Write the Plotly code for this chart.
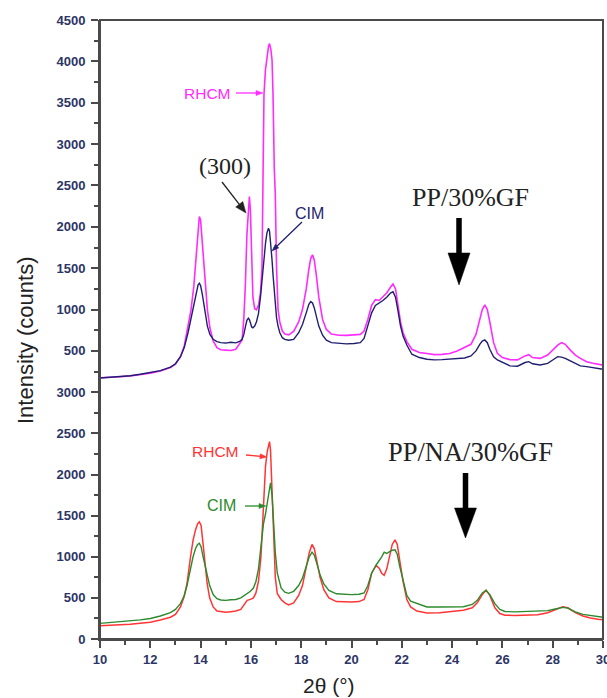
import plotly.graph_objects as go

# ---------------- data ----------------
# Top panel: PP/30%GF
top_rhcm_x = [10.0, 10.4, 10.8, 11.2, 11.6, 12.0, 12.4, 12.8, 13.0, 13.2,
              13.35, 13.5, 13.62, 13.73, 13.82, 13.9, 13.95, 14.0, 14.07, 14.13,
              14.19, 14.27, 14.37, 14.5, 14.65, 14.8, 15.0, 15.2, 15.4, 15.55,
              15.65, 15.72, 15.78, 15.84, 15.9, 15.94, 15.98, 16.03, 16.08, 16.15,
              16.22, 16.3, 16.38, 16.44, 16.48, 16.52, 16.58, 16.64, 16.7, 16.74,
              16.79, 16.84, 16.88, 16.93, 16.97, 17.02, 17.08, 17.15, 17.25, 17.35,
              17.5, 17.7, 17.9, 18.05, 18.2, 18.3, 18.38, 18.45, 18.52, 18.6,
              18.7, 18.85, 19.0, 19.2, 19.5, 19.8, 20.1, 20.35, 20.5, 20.65,
              20.8, 20.95, 21.1, 21.25, 21.4, 21.55, 21.65, 21.75, 21.85, 21.95,
              22.05, 22.2, 22.4, 22.7, 23.0, 23.3, 23.6, 23.9, 24.2, 24.5,
              24.75, 24.95, 25.1, 25.2, 25.3, 25.4, 25.5, 25.65, 25.8, 26.0,
              26.3, 26.6, 26.9, 27.05, 27.2, 27.5, 27.8, 28.0, 28.2, 28.35,
              28.5, 28.7, 28.9, 29.1, 29.35, 29.6, 29.8, 30.0]
top_rhcm_y = [175, 178, 188, 198, 212, 232, 258, 298, 340, 430,
              560, 780, 1000, 1280, 1650, 2000, 2125, 2080, 1800, 1500,
              1280, 1000, 780, 620, 540, 515, 510, 505, 520, 580,
              633, 900, 1300, 1900, 2300, 2367, 2200, 1600, 1150, 1010,
              996, 1050, 1200, 1500, 2500, 3600, 3900, 4050, 4180, 4215,
              4150, 4020, 3600, 2700, 2400, 1500, 1000, 850, 740, 705,
              695, 735, 850, 1000, 1250, 1480, 1620, 1661, 1600, 1420,
              1150, 880, 760, 705, 690, 688, 692, 700, 740, 880,
              1050, 1120, 1110, 1150, 1200, 1270, 1310, 1250, 1050, 850,
              720, 612, 520, 482, 468, 455, 458, 470, 500, 545,
              580, 700, 880, 1000, 1056, 1000, 850, 600, 472, 420,
              395, 392, 440, 455, 420, 410, 450, 510, 570, 600,
              580, 510, 450, 410, 370, 352, 340, 328]

top_cim_x = top_rhcm_x
top_cim_y = [172, 182, 185, 200, 218, 238, 262, 305, 345, 430,
             540, 720, 900, 1050, 1200, 1300, 1318, 1290, 1180, 1050,
             930, 800, 700, 640, 612, 600, 595, 605, 598, 615,
             640, 700, 790, 870, 895, 880, 840, 790, 780, 800,
             850, 950, 1150, 1350, 1500, 1650, 1800, 1930, 1984, 1950,
             1800, 1600, 1420, 1200, 1050, 900, 800, 720, 660, 640,
             630, 640, 720, 820, 960, 1060, 1096, 1080, 1020, 920,
             800, 690, 630, 600, 590, 585, 590, 600, 650, 800,
             960, 1050, 1077, 1110, 1150, 1200, 1217, 1150, 980, 800,
             680, 572, 460, 420, 400, 392, 395, 400, 410, 415,
             440, 500, 580, 620, 633, 600, 520, 430, 391, 360,
             320, 315, 360, 370, 345, 330, 350, 390, 431, 425,
             410, 380, 345, 320, 310, 295, 285, 278]

# Bottom panel: PP/NA/30%GF
bot_x = [10.0, 10.4, 10.8, 11.2, 11.6, 12.0, 12.4, 12.8, 13.0, 13.2,
         13.35, 13.46, 13.6, 13.7, 13.8, 13.88, 13.95, 14.02, 14.1, 14.18,
         14.26, 14.36, 14.5, 14.65, 14.8, 15.0, 15.2, 15.4, 15.6, 15.75,
         15.85, 15.98, 16.1, 16.2, 16.3, 16.4, 16.5, 16.58, 16.65, 16.7,
         16.74, 16.78, 16.84, 16.9, 16.97, 17.05, 17.2, 17.35, 17.5, 17.7,
         17.9, 18.05, 18.2, 18.32, 18.43, 18.52, 18.62, 18.75, 18.9, 19.1,
         19.4, 19.7, 20.0, 20.3, 20.5, 20.65, 20.8, 20.98, 21.1, 21.2,
         21.3, 21.4, 21.5, 21.62, 21.73, 21.82, 21.92, 22.05, 22.2, 22.35,
         22.6, 23.0, 23.5, 24.0, 24.45, 24.8, 25.0, 25.2, 25.35, 25.5,
         25.7, 25.9, 26.1, 26.5, 27.0, 27.4, 27.8, 28.1, 28.4, 28.6,
         28.9, 29.2, 29.5, 29.8, 30.0]
bot_rhcm_y = [160, 165, 172, 180, 192, 205, 230, 265, 300, 390,
              520, 675, 1000, 1200, 1330, 1400, 1425, 1380, 1150, 900,
              675, 500, 390, 340, 330, 325, 332, 340, 360, 420,
              470, 482, 500, 560, 700, 1000, 1680, 2100, 2280, 2350,
              2400, 2300, 1800, 1100, 750, 550, 480, 440, 415, 440,
              530, 650, 850, 1050, 1150, 1100, 950, 750, 600, 500,
              455, 450, 450, 455, 480, 600, 800, 895, 860, 800,
              775, 850, 1000, 1150, 1205, 1150, 950, 700, 480, 390,
              340, 315, 320, 335, 350, 380, 440, 540, 594, 530,
              380, 310, 290, 285, 290, 295, 320, 360, 393, 380,
              320, 280, 255, 240, 233]
bot_cim_y = [190, 200, 205, 215, 232, 250, 280, 320, 360, 430,
             530, 650, 880, 1000, 1100, 1150, 1164, 1120, 1000, 880,
             795, 650, 540, 490, 475, 470, 478, 480, 500, 530,
             560, 580, 620, 700, 850, 1100, 1400, 1520, 1650, 1750,
             1850, 1900, 1750, 1400, 1050, 800, 620, 570, 555, 580,
             650, 740, 880, 1000, 1056, 1020, 920, 780, 670, 590,
             550, 545, 540, 545, 560, 650, 800, 900, 950, 1000,
             1056, 1040, 1060, 1080, 1084, 1030, 880, 700, 530, 460,
             430, 390, 390, 395, 393, 420, 470, 560, 590, 540,
             430, 360, 335, 330, 333, 335, 345, 365, 385, 375,
             330, 300, 285, 270, 265]

x_ticks = [10, 12, 14, 16, 18, 20, 22, 24, 26, 28, 30]
top_ticks = [500, 1000, 1500, 2000, 2500, 3000, 3500, 4000, 4500]
bot_ticks = [0, 500, 1000, 1500, 2000, 2500, 3000]

# ---------------- layout helpers ----------------
W, H = 607, 698
PL, PR, PT, PB = 100, 603, 20, 639   # plot area in pixels
SPLIT = 392.3                        # pixel row where panels meet


def fx(x):
    return (x - PL) / (PR - PL)


def fy(y):
    return (PB - y) / (PB - PT)


split = fy(SPLIT)

C_MAG = "#ff2cff"
C_NAVY = "#1f1f70"
C_RED = "#ff3535"
C_GREEN = "#2b8a2b"
AX = "#4a4a4a"
TICKC = "#2c3566"

fig = go.Figure()
fig.add_trace(go.Scatter(x=top_rhcm_x, y=top_rhcm_y, xaxis="x", yaxis="y2", mode="lines",
                         line=dict(color=C_MAG, width=1.6), name="RHCM"))
fig.add_trace(go.Scatter(x=top_cim_x, y=top_cim_y, xaxis="x", yaxis="y2", mode="lines",
                         line=dict(color=C_NAVY, width=1.4), name="CIM"))
fig.add_trace(go.Scatter(x=bot_x, y=bot_rhcm_y, xaxis="x", yaxis="y", mode="lines",
                         line=dict(color=C_RED, width=1.5), name="RHCM"))
fig.add_trace(go.Scatter(x=bot_x, y=bot_cim_y, xaxis="x", yaxis="y", mode="lines",
                         line=dict(color=C_GREEN, width=1.4), name="CIM"))

tickfont = dict(family="Liberation Sans, Arial", size=13, color=TICKC, weight="bold")
common = dict(showline=True, linecolor=AX, linewidth=2, ticks="outside", ticklen=7,
              tickwidth=1.5, tickcolor=AX, showgrid=False, zeroline=False,
              tickfont=tickfont, automargin=False)

fig.update_layout(
    width=W, height=H,
    margin=dict(l=PL, r=W - PR, t=PT, b=H - PB, pad=0, autoexpand=False),
    paper_bgcolor="white", plot_bgcolor="white",
    showlegend=False,
    xaxis=dict(range=[10, 30], tickvals=x_ticks, anchor="y", ticklabeloverflow="allow",
               minor=dict(dtick=1, tick0=10, ticks="outside", ticklen=4, tickcolor=AX, tickwidth=1.5),
               **common),
    yaxis=dict(domain=[0, split], range=[0, 3000], tickvals=bot_ticks, anchor="x",
               ticklabelstandoff=3,
               minor=dict(dtick=250, tick0=0, ticks="outside", ticklen=4, tickcolor=AX, tickwidth=1.5),
               **common),
    yaxis2=dict(domain=[split, 1], range=[0, 4500], tickvals=top_ticks, anchor="x",
                ticklabelstandoff=3,
                minor=dict(dtick=250, tick0=0, ticks="outside", ticklen=4, tickcolor=AX, tickwidth=1.5),
                **common),
)

shapes = [dict(type="rect", xref="paper", yref="paper", x0=0, x1=1, y0=0, y1=1,
               line=dict(color=AX, width=2), fillcolor="rgba(0,0,0,0)")]


def arrow(x0, y0, x1, y1, color, lw, hl, hw):
    """Arrow from pixel (x0,y0) to tip (x1,y1) with a filled head."""
    dx, dy = x1 - x0, y1 - y0
    n = (dx * dx + dy * dy) ** 0.5
    ux, uy = dx / n, dy / n
    bx, by = x1 - ux * hl, y1 - uy * hl
    px_, py_ = -uy, ux
    out = [dict(type="line", xref="paper", yref="paper",
                x0=fx(x0), y0=fy(y0), x1=fx(bx + ux * 1.0), y1=fy(by + uy * 1.0),
                line=dict(color=color, width=lw))]
    pts = [(x1, y1), (bx + px_ * hw / 2, by + py_ * hw / 2), (bx - px_ * hw / 2, by - py_ * hw / 2)]
    path = "M {} {} L {} {} L {} {} Z".format(*[v for p in pts for v in (fx(p[0]), fy(p[1]))])
    out.append(dict(type="path", xref="paper", yref="paper", path=path,
                    fillcolor=color, line=dict(color=color, width=0.5)))
    return out


shapes += arrow(236, 93, 263, 93, C_MAG, 1.3, 7, 5)          # RHCM top
shapes += arrow(302, 222, 272, 251, C_NAVY, 1.3, 7, 5)       # CIM top
shapes += arrow(222, 182, 246, 213, "#222222", 1.3, 11, 9)   # (300)
shapes += arrow(246, 455, 267, 457, C_RED, 1.3, 7, 5)        # RHCM bottom
shapes += arrow(245, 506, 266, 506, C_GREEN, 1.3, 7, 5)      # CIM bottom
shapes += arrow(459, 218, 459, 285, "black", 5.5, 32, 22)    # PP/30%GF
shapes += arrow(465.5, 473, 465.5, 538, "black", 5.5, 30, 22)  # PP/NA/30%GF
fig.update_layout(shapes=shapes)

sans = "Liberation Sans, Arial"
serif = "Liberation Serif, Times New Roman"


def label(text, x, y, color, size, family, angle=0):
    return dict(text=text, x=fx(x), y=fy(y), xref="paper", yref="paper",
                xanchor="center", yanchor="middle", showarrow=False, textangle=angle,
                font=dict(color=color, size=size, family=family))


fig.update_layout(annotations=[
    label("RHCM", 207.5, 94, C_MAG, 15.5, sans),
    label("CIM", 309, 213, C_NAVY, 16, sans),
    label("(300)", 225, 166, "#222222", 24, serif),
    label("PP/30%GF", 470, 197, "#222222", 26, serif),
    label("RHCM", 215, 451, C_RED, 15.5, sans),
    label("CIM", 221.5, 505, C_GREEN, 16, sans),
    label("PP/NA/30%GF", 470, 452, "#222222", 26.5, serif),
    label("2θ (°)", 329, 686, "#222222", 21, sans),
    label("Intensity (counts)", 25, 340, "#222222", 22, sans, angle=-90),
])

fig.write_html("out.html")
